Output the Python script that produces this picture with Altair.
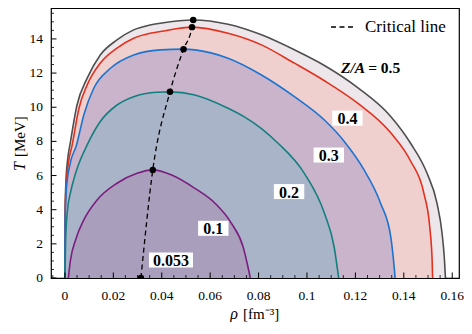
import altair as alt
import pandas as pd

# ---------------- data ----------------
rho_05 = [0.0, 0.0001, 0.0004, 0.0011, 0.0023, 0.0050, 0.0092, 0.0146, 0.0215, 0.0284, 0.0352, 0.0394,
          0.0530, 0.0674, 0.0812, 0.0948, 0.1072, 0.1208, 0.1346, 0.1428, 0.1496, 0.1537, 0.1558, 0.1568, 0.1572]
T_05 = [0.0, 4.0, 5.6, 6.9, 7.98, 10.13, 11.70, 13.06, 13.94, 14.53, 14.82, 14.92,
        15.11, 14.86, 14.24, 13.36, 12.44, 11.16, 9.46, 7.89, 6.13, 4.38, 2.62, 1.05, 0.0]

rho_04 = [0.0, 0.0001, 0.0005, 0.0014, 0.0030, 0.0058, 0.0092, 0.0146, 0.0215, 0.0284, 0.0352, 0.0394,
          0.0525, 0.0674, 0.0812, 0.0948, 0.1072, 0.1208, 0.1346, 0.1428, 0.1483, 0.1507, 0.1517, 0.1519]
T_04 = [0.0, 3.8, 5.4, 6.7, 7.79, 9.94, 11.31, 12.58, 13.46, 14.04, 14.33, 14.43,
        14.69, 14.33, 13.65, 12.58, 11.55, 10.25, 8.50, 6.85, 4.96, 3.00, 1.05, 0.0]

rho_03 = [0.0, 0.0001, 0.0006, 0.0020, 0.0048, 0.0078, 0.0119, 0.0188, 0.0284, 0.0394, 0.0490, 0.0537,
          0.0674, 0.0812, 0.0948, 0.1072, 0.1154, 0.1236, 0.1304, 0.1346, 0.1360, 0.1364]
T_03 = [0.0, 3.5, 5.2, 6.6, 7.79, 9.55, 11.11, 12.28, 13.06, 13.36, 13.40, 13.36,
        12.87, 11.89, 10.62, 9.25, 8.00, 6.33, 4.38, 2.42, 0.66, 0.0]

rho_02 = [0.0, 0.0003, 0.0010, 0.0023, 0.0044, 0.0092, 0.0146, 0.0215, 0.0284, 0.0380, 0.0434, 0.0537,
          0.0674, 0.0743, 0.0812, 0.0876, 0.0989, 0.1072, 0.1112, 0.1131]
T_02 = [0.0, 2.2, 3.9, 5.0, 6.13, 7.79, 9.16, 10.13, 10.62, 10.88, 10.90, 10.72,
        9.94, 9.42, 8.75, 7.95, 6.13, 3.79, 1.83, 0.0]

rho_01 = [0.0014, 0.0023, 0.0044, 0.0078, 0.0133, 0.0215, 0.0298, 0.0363, 0.0441, 0.0537, 0.0620,
          0.0688, 0.0736, 0.0756, 0.0766]
T_01 = [0.0, 1.05, 2.23, 3.40, 4.57, 5.55, 6.13, 6.33, 6.03, 5.25, 4.38, 3.20, 1.83, 0.66, 0.0]

crit_rho = [0.0314, 0.0363, 0.0434, 0.0490, 0.0525, 0.0530]
crit_T = [0.0, 6.33, 10.90, 13.40, 14.69, 15.11]

label_text = ["0.4", "0.3", "0.2", "0.1", "0.053"]
label_rho = [0.1167, 0.1090, 0.0926, 0.0613, 0.0438]
label_T = [9.36, 7.20, 5.06, 2.91, 1.05]

x_major = [0, 0.02, 0.04, 0.06, 0.08, 0.1, 0.12, 0.14, 0.16]
x_labels = ["0", "0.02", "0.04", "0.06", "0.08", "0.1", "0.12", "0.14", "0.16"]
y_major = [0, 2, 4, 6, 8, 10, 12, 14]
y_labels = ["0", "2", "4", "6", "8", "10", "12", "14"]

# ---------------- styles ----------------
W, H = 408, 270
X_DOMAIN = [-0.00575, 0.1628]
Y_DOMAIN = [0, 15.81]
SERIF = "Liberation Serif"

series = [
    ("0.5", rho_05, T_05, "#4f4f4f", "#ede7ec"),
    ("0.4", rho_04, T_04, "#e3311d", "#efd0cf"),
    ("0.3", rho_03, T_03, "#1c74d0", "#c9b4cc"),
    ("0.2", rho_02, T_02, "#14807e", "#aab4c9"),
    ("0.1", rho_01, T_01, "#7b1e7f", "#a99ebc"),
]

xs = alt.Scale(domain=X_DOMAIN, nice=False, zero=False)
ys = alt.Scale(domain=Y_DOMAIN, nice=False, zero=False)


def X(field):
    return alt.X(f"{field}:Q", scale=xs, axis=None)


def Y(field):
    return alt.Y(f"{field}:Q", scale=ys, axis=None)


layers = []
# filled regions (outermost first)
for name, r, t, lc, fc in series:
    df = pd.DataFrame({"rho": r, "T": t})
    layers.append(alt.Chart(df).mark_area(color=fc, opacity=1, interpolate="monotone").encode(
        x=X("rho"), y=Y("T"), y2=alt.datum(0)))

# curves
for name, r, t, lc, fc in series:
    df = pd.DataFrame({"rho": r, "T": t})
    layers.append(alt.Chart(df).mark_line(color=lc, strokeWidth=1.6, interpolate="monotone").encode(
        x=X("rho"), y=Y("T")))

# critical line
crit_df = pd.DataFrame({"rho": crit_rho, "T": crit_T})
layers.append(
    alt.Chart(crit_df).mark_line(color="black", strokeWidth=1.3, strokeDash=[5, 3.5],
                                 interpolate="monotone").encode(x=X("rho"), y=Y("T")))
layers.append(
    alt.Chart(crit_df).mark_point(filled=True, color="black", opacity=1, size=42, clip=True).encode(
        x=X("rho"), y=Y("T")))

# label boxes + text
box_h = 15
box_w = [len(s) * 6.8 + 10 for s in label_text]
lab_df = pd.DataFrame({
    "rho": label_rho, "T": label_T, "txt": label_text,
    "sz": [w * w for w in box_w],
    "shp": [f"M-1,-{box_h / w:.4f}L1,-{box_h / w:.4f}L1,{box_h / w:.4f}L-1,{box_h / w:.4f}Z"
            for w in box_w],
})
layers.append(
    alt.Chart(lab_df).mark_point(filled=True, color="white", opacity=1, strokeWidth=0).encode(
        x=X("rho"), y=Y("T"),
        size=alt.Size("sz:Q", scale=None, legend=None),
        shape=alt.Shape("shp:N", scale=None, legend=None)))
layers.append(
    alt.Chart(lab_df).mark_text(font=SERIF, fontWeight="bold", fontSize=16, color="black",
                                align="center", baseline="middle", dy=1).encode(
        x=X("rho"), y=Y("T"), text="txt:N"))

# Z/A = 0.5 label
za_df = pd.DataFrame({"rho": [0.1232], "T": [12.28]})
layers.append(
    alt.Chart(za_df).mark_text(font=SERIF, fontWeight="bold", fontStyle="italic", fontSize=15.5,
                               color="black", align="right", baseline="middle", dx=2).encode(
        x=X("rho"), y=Y("T"), text=alt.value("Z/A")))
layers.append(
    alt.Chart(za_df).mark_text(font=SERIF, fontWeight="bold", fontSize=15.5,
                               color="black", align="left", baseline="middle", dx=5).encode(
        x=X("rho"), y=Y("T"), text=alt.value("= 0.5")))

# inward ticks
xmaj_df = pd.DataFrame({"rho": x_major, "lab": x_labels})
x_minor = [round(-0.005 + 0.005 * k, 4) for k in range(34)]
x_minor = [v for v in x_minor if all(abs(v - m) > 1e-9 for m in x_major)]
xmin_df = pd.DataFrame({"rho": x_minor})
ymaj_df = pd.DataFrame({"T": y_major, "lab": y_labels})
y_minor = [0.5 * k for k in range(32) if (0.5 * k) % 2 != 0]
ymin_df = pd.DataFrame({"T": y_minor})

layers.append(alt.Chart(xmaj_df).mark_rule(color="black", strokeWidth=1).encode(
    x=X("rho"), y=alt.value(H), y2=alt.value(H - 5.5)))
layers.append(alt.Chart(xmin_df).mark_rule(color="black", strokeWidth=0.8).encode(
    x=X("rho"), y=alt.value(H), y2=alt.value(H - 3)))
layers.append(alt.Chart(ymaj_df).mark_rule(color="black", strokeWidth=1).encode(
    y=Y("T"), x=alt.value(0), x2=alt.value(5.5)))
layers.append(alt.Chart(ymin_df).mark_rule(color="black", strokeWidth=0.8, clip=True).encode(
    y=Y("T"), x=alt.value(0), x2=alt.value(3)))

# tick labels (serif)
layers.append(alt.Chart(xmaj_df).mark_text(font=SERIF, fontSize=13.5, color="black",
                                           align="center", baseline="middle").encode(
    x=X("rho"), y=alt.value(H + 18), text="lab:N"))
layers.append(alt.Chart(ymaj_df).mark_text(font=SERIF, fontSize=13.5, color="black",
                                           align="right", baseline="middle").encode(
    y=Y("T"), x=alt.value(-8), text="lab:N"))

# axis titles (italic symbol + upright unit)
one = pd.DataFrame({"a": [0]})
layers.append(alt.Chart(one).mark_text(font=SERIF, fontSize=16, fontStyle="italic", color="black",
                                       align="right", baseline="middle").encode(
    x=alt.value(187), y=alt.value(H + 36), text=alt.value("ρ")))
layers.append(alt.Chart(one).mark_text(font=SERIF, fontSize=15, color="black",
                                       align="left", baseline="middle").encode(
    x=alt.value(192), y=alt.value(H + 36), text=alt.value("[fm⁻³]")))
layers.append(alt.Chart(one).mark_text(font=SERIF, fontSize=16, fontStyle="italic", color="black",
                                       align="left", baseline="middle", angle=270).encode(
    x=alt.value(-31), y=alt.value(163), text=alt.value("T")))
layers.append(alt.Chart(one).mark_text(font=SERIF, fontSize=15, color="black",
                                       align="left", baseline="middle", angle=270).encode(
    x=alt.value(-31), y=alt.value(149), text=alt.value("[MeV]")))

# legend (manual)
layers.append(alt.Chart(one).mark_rule(
    color="black", strokeWidth=1.3, strokeDash=[5, 3.5]).encode(
    x=alt.value(280), x2=alt.value(304), y=alt.value(19)))
layers.append(alt.Chart(one).mark_text(
    font=SERIF, fontSize=17, color="black", align="left", baseline="middle").encode(
    x=alt.value(314), y=alt.value(19), text=alt.value("Critical line")))

chart = alt.layer(*layers).properties(
    width=W, height=H,
    background="white",
    autosize=alt.AutoSizeParams(type="none"),
    padding={"left": 43, "top": 0, "right": 5, "bottom": 44},
).configure_view(stroke="black", strokeWidth=1.2)

chart.save("out.html", embed_options={"renderer": "svg", "actions": False})
